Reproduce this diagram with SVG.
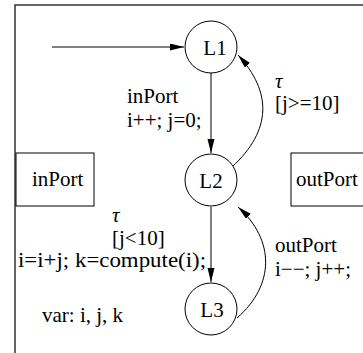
<svg xmlns="http://www.w3.org/2000/svg" width="363" height="353" viewBox="0 0 363 353">
<style>
text{font-family:"Liberation Serif","Times New Roman",serif;font-size:21px;fill:#000}
.st{fill:#fff;stroke:#000;stroke-width:1}
.e{fill:none;stroke:#000;stroke-width:1}
.frame{fill:none;stroke:#333;stroke-width:1.5}
.tau{font-style:italic}
</style>
<defs>
<marker id="ah" markerUnits="userSpaceOnUse" markerWidth="15" markerHeight="8" refX="14" refY="3.5" orient="auto">
<path d="M0,0 L14,3.5 L0,7 z" fill="#000"/>
</marker>
</defs>
<rect width="363" height="353" fill="#fff"/>
<path class="frame" d="M15,353 V5 H363"/>
<g id="connectors">
<path class="e" d="M52,47 H184" marker-end="url(#ah)"/>
<path class="e" d="M211,73 V153" marker-end="url(#ah)"/>
<path class="e" d="M211,207 V282" marker-end="url(#ah)"/>
<path class="e" d="M232,167 C272,130 272,92 238,55" marker-end="url(#ah)"/>
<path class="e" d="M237,318 C275,285 275,240 238,207" marker-end="url(#ah)"/>
</g>
<g id="L1"><circle class="st" cx="211" cy="47" r="26"/><text x="215" y="55" text-anchor="middle">L1</text></g>
<g id="L2"><circle class="st" cx="211" cy="180" r="26"/><text x="211" y="188" text-anchor="middle">L2</text></g>
<g id="L3"><circle class="st" cx="211" cy="309" r="26"/><text x="212" y="317" text-anchor="middle">L3</text></g>
<g id="inPortBox"><rect class="st" x="16" y="153" width="78" height="53"/><text x="32" y="186">inPort</text></g>
<g id="outPortBox"><rect class="st" x="291" y="153" width="80" height="53"/><text x="296" y="186">outPort</text></g>
<g id="labels">
<text x="127" y="103">inPort</text>
<text x="127" y="127">i++; j=0;</text>
<text class="tau" x="275" y="88">τ</text>
<text x="275" y="110">[j&gt;=10]</text>
<text class="tau" x="112" y="222">τ</text>
<text x="112" y="245">[j&lt;10]</text>
<text x="18" y="267" textLength="188" lengthAdjust="spacingAndGlyphs">i=i+j; k=compute(i);</text>
<text x="275" y="252">outPort</text>
<text x="275" y="276">i−−; j++;</text>
<text x="42" y="322">var: i, j, k</text>
</g>
</svg>
